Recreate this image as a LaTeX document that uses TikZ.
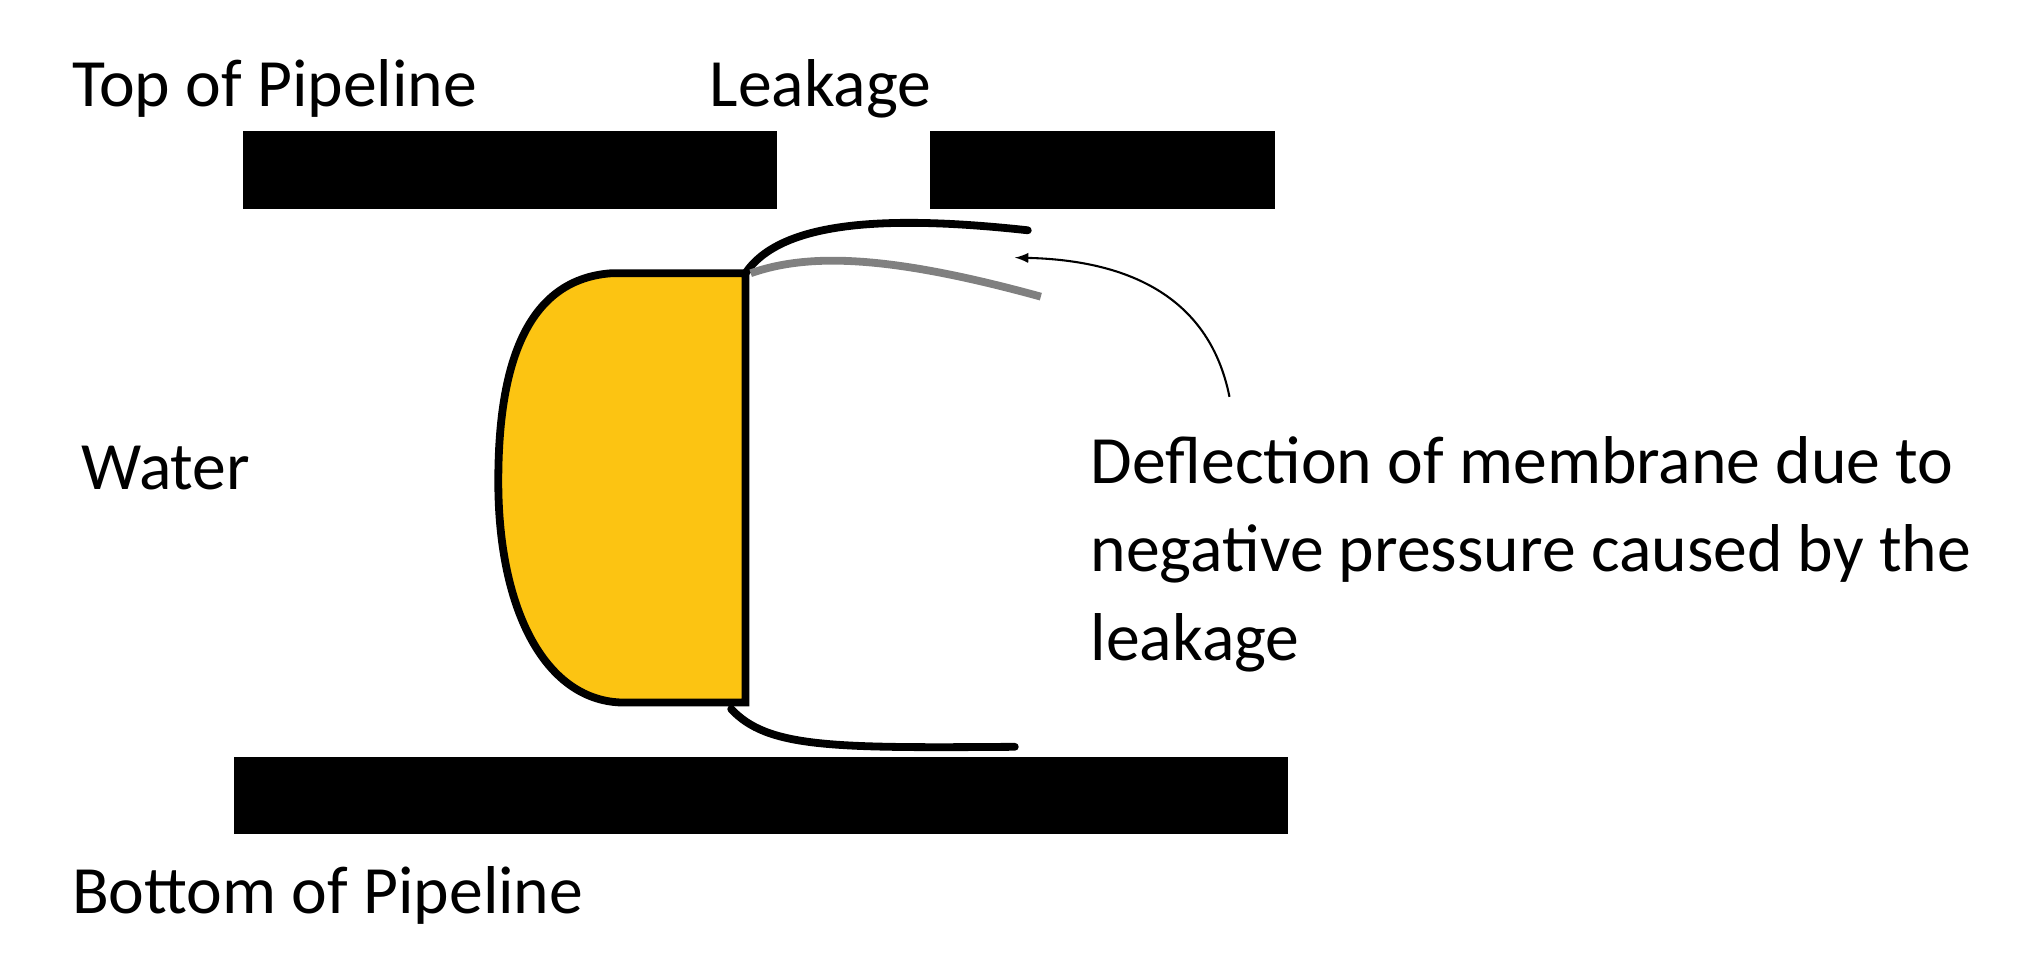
\documentclass[tikz,border=0pt]{standalone}
\usepackage{fontspec}
\setmainfont{Carlito}
\begin{document}
\begin{tikzpicture}[x=0.5pt,y=-0.5pt,
  bar/.style={fill=black},
  lbl/.style={anchor=west,inner sep=0pt,font=\fontsize{26}{34}\selectfont},
  memb/.style={line width=3pt,line cap=round}]
\useasboundingbox (0,0) rectangle (1568,735);
\fill[bar] (187,101) rectangle (597,161);
\fill[bar] (715,101) rectangle (980,161);
\fill[bar] (180,582) rectangle (990,641);
\node[lbl] (top) at (55,68) {Top of Pipeline};
\node[lbl] (leak) at (545,68) {Leakage};
\node[lbl] (water) at (62,360) {Water};
\node[lbl] (bot) at (55,688) {Bottom of Pipeline};
\node[lbl,align=left,anchor=north west] (txt) at (838,335) {Deflection of membrane due to\\negative pressure caused by the\\leakage};
\draw[memb,fill={rgb,255:red,252;green,196;blue,18}]
  (573,210) -- (470,210) .. controls (400,215) and (383,290) .. (383,370)
  .. controls (383,470) and (420,540) .. (480,540) -- (573,540) -- cycle;
\draw[memb] (573,210) .. controls (600,170) and (680,165) .. (790,177);
\draw[memb] (562,545) .. controls (590,575) and (640,575) .. (780,574);
\draw[line width=3pt,gray] (577,210) .. controls (620,195) and (680,195) .. (800,228);
\coordinate (as) at (945,305);
\coordinate (ae) at (780,198);
\draw[-latex,thin,>=latex,line width=0.8pt] (as) .. controls (930,230) and (870,200) .. (ae);
\end{tikzpicture}
\end{document}
